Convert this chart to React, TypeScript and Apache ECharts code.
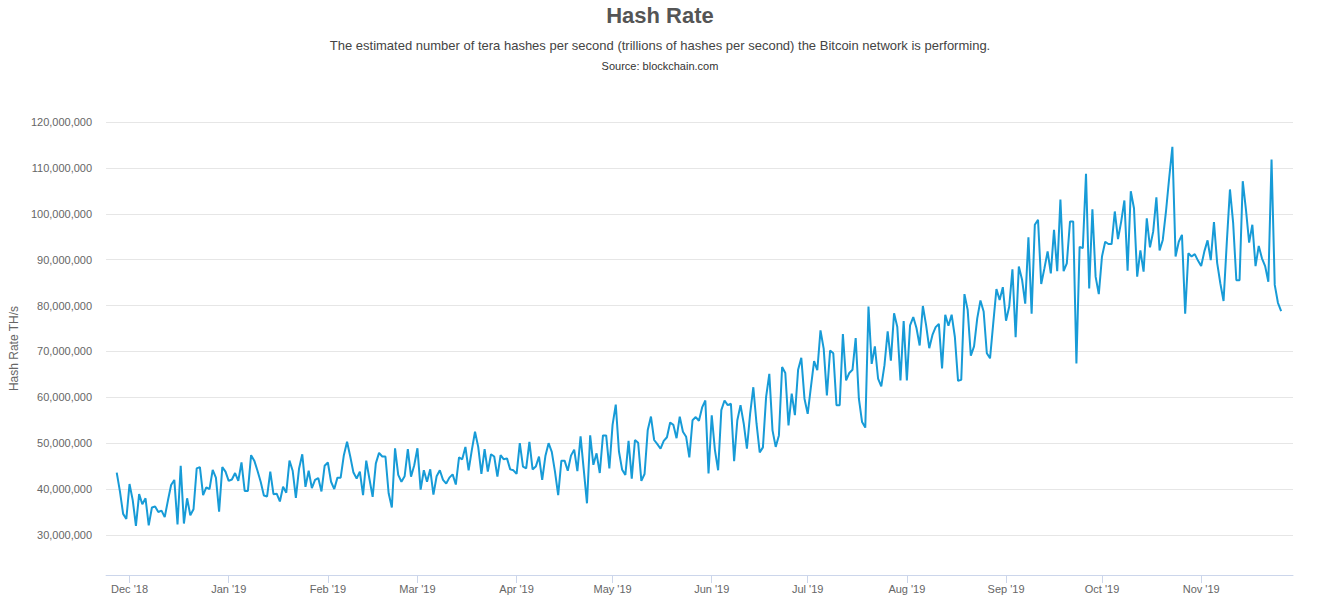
import React, { useEffect, useRef } from "react";
import * as echarts from "echarts";

// Daily hash rate, in millions of TH/s, from 27 Nov 2018 onwards (one value per day)
const START_DATE = Date.UTC(2018, 10, 27);
const hashRateMillions = [
  43.6, 39.5, 34.6, 33.5, 41.1, 37.6, 32.0, 38.9, 36.7, 38.0,
  32.1, 36.0, 36.2, 35.0, 35.3, 33.9, 37.5, 40.9, 42.0, 32.3,
  45.1, 32.5, 38.0, 34.3, 35.6, 44.5, 44.8, 38.7, 40.4, 40.0,
  44.2, 42.5, 35.1, 44.8, 43.8, 41.8, 42.1, 43.5, 41.8, 45.8,
  39.6, 39.6, 47.4, 46.2, 44.0, 41.6, 38.6, 38.4, 43.8, 38.9,
  39.0, 37.3, 40.5, 39.2, 46.2, 44.0, 38.1, 44.5, 47.6, 40.5,
  44.0, 40.2, 42.0, 42.4, 39.5, 45.1, 45.8, 41.6, 40.0, 42.5,
  42.5, 47.4, 50.3, 47.1, 43.6, 42.3, 43.8, 38.7, 46.2, 42.2,
  38.3, 45.6, 47.9, 47.1, 47.1, 39.1, 36.0, 48.9, 43.1, 41.6,
  42.8, 48.7, 42.7, 45.2, 48.9, 39.9, 44.1, 41.6, 44.3, 38.8,
  42.8, 44.1, 42.0, 41.2, 42.5, 43.2, 41.0, 46.9, 46.5, 49.2,
  44.1, 48.5, 52.5, 49.2, 43.3, 48.7, 43.8, 47.6, 47.1, 42.7,
  47.4, 46.5, 46.7, 44.3, 44.1, 43.3, 50.0, 44.9, 44.5, 50.3,
  44.3, 44.9, 47.1, 42.0, 47.2, 50.0, 48.1, 43.8, 38.7, 46.2,
  46.2, 44.0, 47.3, 48.6, 43.9, 51.5, 44.2, 36.9, 51.7, 45.3,
  47.8, 43.5, 51.7, 51.7, 44.5, 54.0, 58.4, 48.2, 44.2, 43.1,
  50.5, 42.3, 50.7, 50.1, 41.8, 43.3, 52.9, 55.8, 50.7, 49.8,
  48.8, 50.5, 51.3, 54.5, 54.0, 51.1, 55.8, 52.5, 51.4, 46.9,
  55.0, 55.7, 54.9, 57.8, 59.3, 43.4, 56.1, 48.5, 44.1, 57.2,
  59.3, 58.3, 58.6, 46.1, 55.0, 58.3, 54.3, 48.8, 56.4, 62.2,
  54.3, 48.0, 49.1, 60.1, 65.1, 52.8, 49.2, 51.7, 66.6, 65.3,
  53.9, 60.8, 56.1, 66.0, 68.6, 59.7, 56.4, 62.2, 67.9, 65.9,
  74.6, 70.6, 60.4, 70.2, 69.6, 58.3, 58.3, 73.8, 63.7, 65.3,
  66.0, 72.9, 59.7, 54.6, 53.4, 79.8, 67.3, 71.1, 64.1, 62.4,
  67.0, 74.4, 68.0, 78.3, 75.4, 63.7, 76.6, 63.7, 75.7, 77.5,
  75.1, 71.3, 79.9, 75.8, 70.7, 73.6, 75.3, 76.0, 66.3, 78.0,
  75.6, 78.0, 73.2, 63.6, 63.8, 82.5, 79.1, 69.1, 71.1, 77.2,
  81.1, 78.7, 69.6, 68.5, 76.1, 83.6, 81.2, 84.0, 76.7, 79.8,
  87.9, 73.1, 88.5, 85.7, 80.4, 94.9, 78.2, 97.6, 98.7, 84.7,
  88.1, 91.8, 87.0, 96.5, 87.5, 103.1, 87.5, 89.2, 98.3, 98.3,
  67.4, 92.8, 92.5, 108.7, 83.7, 101.0, 86.3, 82.5, 90.7, 93.9,
  93.4, 93.4, 100.5, 94.5, 98.3, 102.9, 87.6, 104.9, 101.2, 86.3,
  92.0, 87.4, 99.0, 92.7, 96.1, 103.6, 92.0, 94.3, 100.5, 107.8,
  114.6, 90.7, 93.9, 95.4, 78.2, 91.4, 90.7, 91.2, 89.8, 88.6,
  91.8, 94.2, 89.9, 98.2, 89.3, 84.8, 81.0, 93.6, 105.3, 98.0,
  85.5, 85.5, 107.1, 100.9, 93.7, 97.6, 88.6, 93.0, 90.3, 88.6,
  85.2, 111.8, 84.5, 80.6, 78.8,
];

// Month tick positions and their labels
const monthTickDates = [
  [2018, 11], [2019, 0], [2019, 1], [2019, 2], [2019, 3], [2019, 4],
  [2019, 5], [2019, 6], [2019, 7], [2019, 8], [2019, 9], [2019, 10],
];
const monthTickLabels = [
  "Dec '18", "Jan '19", "Feb '19", "Mar '19", "Apr '19", "May '19",
  "Jun '19", "Jul '19", "Aug '19", "Sep '19", "Oct '19", "Nov '19",
];

const TITLE = "Hash Rate";
const SUBTITLE =
  "The estimated number of tera hashes per second (trillions of hashes per second) the Bitcoin network is performing.";
const SOURCE = "Source: blockchain.com";
const Y_NAME = "Hash Rate TH/s";

const DAY = 24 * 3600 * 1000;

function formatThousands(v: number): string {
  return Math.round(v).toString().replace(/\B(?=(\d{3})+(?!\d))/g, ",");
}

export default function App() {
  const ref = useRef<HTMLDivElement | null>(null);

  useEffect(() => {
    if (!ref.current) return;
    const chart = echarts.init(ref.current, null, { renderer: "svg" });

    const seriesData = hashRateMillions.map((v, i) => [START_DATE + i * DAY, v * 1e6]);
    const tickValues = monthTickDates.map(([y, m]) => Date.UTC(y, m, 1));
    const labelFor = (val: number) => {
      for (let i = 0; i < tickValues.length; i++) {
        if (Math.abs(tickValues[i] - val) < DAY / 2) return monthTickLabels[i];
      }
      return "";
    };

    const font = "'Liberation Sans', Arial, Helvetica, sans-serif";

    chart.setOption({
      animation: false,
      backgroundColor: "#ffffff",
      textStyle: { fontFamily: font },
      title: [
        {
          text: TITLE,
          left: "center",
          top: -1,
          textStyle: { fontSize: 22, fontWeight: "bold", color: "#555555", fontFamily: font },
        },
        {
          text: SUBTITLE,
          left: "center",
          top: 34,
          textStyle: { fontSize: 13, fontWeight: "normal", color: "#444444", fontFamily: font },
        },
        {
          text: SOURCE,
          left: "center",
          top: 55,
          textStyle: { fontSize: 11, fontWeight: "normal", color: "#333333", fontFamily: font },
        },
      ],
      grid: { left: 105, right: 27, top: 122, bottom: 25 },
      xAxis: {
        type: "value",
        min: Date.UTC(2018, 10, 23, 16),
        max: Date.UTC(2019, 10, 29, 17),
        axisLine: { show: true, lineStyle: { color: "#ccd6eb", width: 1 } },
        axisTick: {
          show: true,
          customValues: tickValues,
          length: 8,
          lineStyle: { color: "#ccd6eb" },
        },
        axisLabel: {
          customValues: tickValues,
          formatter: (val: number) => labelFor(val),
          color: "#666666",
          fontSize: 11,
          margin: 8,
          fontFamily: font,
        },
        splitLine: { show: false },
      },
      yAxis: {
        type: "value",
        min: 21280000,
        max: 120000000,
        splitNumber: 10,
        name: Y_NAME,
        nameLocation: "middle",
        nameGap: 84,
        nameRotate: 90,
        nameTextStyle: { color: "#666666", fontSize: 12, fontFamily: font },
        axisLine: { show: false },
        axisTick: { show: false },
        axisLabel: {
          color: "#666666",
          fontSize: 11,
          margin: 14,
          fontFamily: font,
          showMinLabel: false,
          formatter: (v: number) => (v % 10000000 === 0 ? formatThousands(v) : ""),
        },
        splitLine: { show: true, lineStyle: { color: "#e6e6e6", width: 1 } },
      },
      series: [
        {
          type: "line",
          data: seriesData,
          showSymbol: false,
          symbol: "none",
          lineStyle: { color: "#179bd7", width: 2 },
          itemStyle: { color: "#179bd7" },
        },
      ],
    });

    return () => chart.dispose();
  }, []);

  return (
    <div
      ref={ref}
      style={{ position: "absolute", left: 0, top: 0, width: 1320, height: 600 }}
    />
  );
}
